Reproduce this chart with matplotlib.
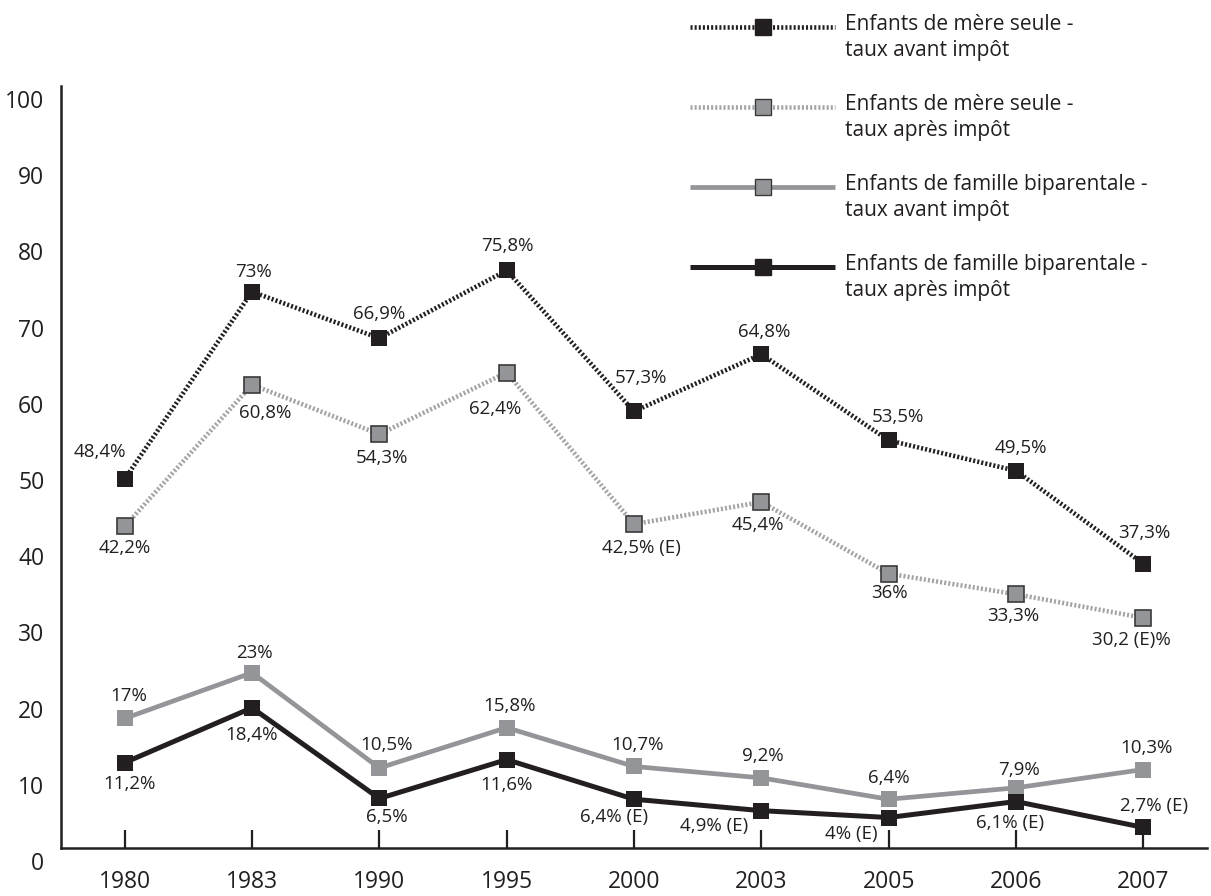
import matplotlib
matplotlib.use("Agg")
import numpy as np
from matplotlib import pyplot as plt
from matplotlib.lines import Line2D
from matplotlib.transforms import ScaledTranslation

plt.rcParams['font.family'] = ['Open Sans', 'DejaVu Sans']

years = ["1980", "1983", "1990", "1995", "2000", "2003", "2005", "2006", "2007"]

mere_avant = [48.4, 73, 66.9, 75.8, 57.3, 64.8, 53.5, 49.5, 37.3]
mere_apres = [42.2, 60.8, 54.3, 62.4, 42.5, 45.4, 36, 33.3, 30.2]
bip_avant = [17, 23, 10.5, 15.8, 10.7, 9.2, 6.4, 7.9, 10.3]
bip_apres = [11.2, 18.4, 6.5, 11.6, 6.4, 4.9, 4, 6.1, 2.7]

lab_mere_avant = ["48,4%", "73%", "66,9%", "75,8%", "57,3%", "64,8%", "53,5%", "49,5%", "37,3%"]
lab_mere_apres = ["42,2%", "60,8%", "54,3%", "62,4%", "42,5% (E)", "45,4%", "36%", "33,3%", "30,2 (E)%"]
lab_bip_avant = ["17%", "23%", "10,5%", "15,8%", "10,7%", "9,2%", "6,4%", "7,9%", "10,3%"]
lab_bip_apres = ["11,2%", "18,4%", "6,5%", "11,6%", "6,4% (E)", "4,9% (E)", "4% (E)", "6,1% (E)", "2,7% (E)"]

legend_labels = ["Enfants de mère seule -\ntaux avant impôt",
                 "Enfants de mère seule -\ntaux après impôt",
                 "Enfants de famille biparentale -\ntaux avant impôt",
                 "Enfants de famille biparentale -\ntaux après impôt"]

# label offsets in pixels (dx, dy)
off_mere_avant = [(-25, 27), (1, 20), (0, 24), (1, 24), (7, 33), (3, 22), (9, 23), (5, 23), (1, 31)]
off_mere_apres = [(0, -22), (13, -28), (3, -24), (-12, -36), (7, -24), (-3, -23), (1, -19), (-3, -22), (-12, -22)]
off_bip_avant = [(4, 22), (2, 20), (7, 23), (3, 22), (4, 21), (1, 22), (0, 21), (3, 18), (3, 22)]
off_bip_apres = [(5, -21), (0, -27), (7, -19), (0, -25), (-20, -18), (-47, -15), (-37, -16), (-6, -21), (11, 21)]

BLACK = "#231f20"
GREY = "#939598"
LGREY = "#a2a4a7"

W, H = 1211, 896
fig = plt.figure(figsize=(W / 100, H / 100), dpi=100)
ax = fig.add_axes([61 / W, (H - 848) / H, (1207 - 61) / W, (848 - 86) / H])

x = np.arange(len(years))
dot = (0, (0.45, 0.45))

styles = [
    dict(color=BLACK, lw=3.3, ls=dot, mfc=BLACK, mec=BLACK, mew=0),
    dict(color=LGREY, lw=3.3, ls=dot, mfc=GREY, mec="#3a3a3a", mew=1.2),
    dict(color=GREY, lw=3.4, ls="-", mfc=GREY, mec=GREY, mew=0),
    dict(color=BLACK, lw=3.6, ls="-", mfc=BLACK, mec=BLACK, mew=0),
]
series = [mere_avant, mere_apres, bip_avant, bip_apres]
labels = [lab_mere_avant, lab_mere_apres, lab_bip_avant, lab_bip_apres]
offsets = [off_mere_avant, off_mere_apres, off_bip_avant, off_bip_apres]

for vals, st, labs, offs in zip(series, styles, labels, offsets):
    ax.plot(x, vals, marker="s", ms=12, dash_capstyle="butt", solid_capstyle="butt",
            **st)
    for xi, v, t, (dx, dy) in zip(x, vals, labs, offs):
        ax.annotate(t, (xi, v), xytext=(dx, dy), textcoords="offset pixels",
                    ha="center", va="center", fontsize=13.5, color=BLACK)

ax.set_xlim(-0.5, 8.5)
ax.set_ylim(0, 99.5)
ax.set_xticks(x)
ax.set_xticklabels(years)
ax.set_yticks(range(0, 101, 10))
ax.tick_params(axis="x", direction="in", length=13, width=1.6, color=BLACK,
               labelsize=16.5, labelcolor=BLACK, pad=16)
ax.tick_params(axis="y", length=0, labelsize=16.5, labelcolor=BLACK, pad=12)
for lab in ax.get_yticklabels():
    lab.set_transform(lab.get_transform() + ScaledTranslation(0, -0.13, fig.dpi_scale_trans))

for s in ["top", "right"]:
    ax.spines[s].set_visible(False)
for s in ["left", "bottom"]:
    ax.spines[s].set_linewidth(1.8)
    ax.spines[s].set_color(BLACK)

# legend drawn at the top right
leg_y = [27, 107, 187, 267]
leg_mec = [BLACK, "#3a3a3a", "#3a3a3a", BLACK]
for yy, st, lab, mec in zip(leg_y, styles, legend_labels, leg_mec):
    xs = np.array([690, 763, 835]) / W
    ys = np.full(3, 1 - yy / H)
    kw = dict(st)
    kw["mec"] = mec
    kw["mew"] = 1.0
    fig.add_artist(Line2D(xs, ys, transform=fig.transFigure, marker="s", ms=12,
                          markevery=[1], dash_capstyle="butt", solid_capstyle="butt", **kw))
    fig.text(845 / W, 1 - (yy - 13) / H, lab, ha="left", va="top", fontsize=15,
             color=BLACK, linespacing=1.3)

plt.savefig("out.png", dpi=100)
